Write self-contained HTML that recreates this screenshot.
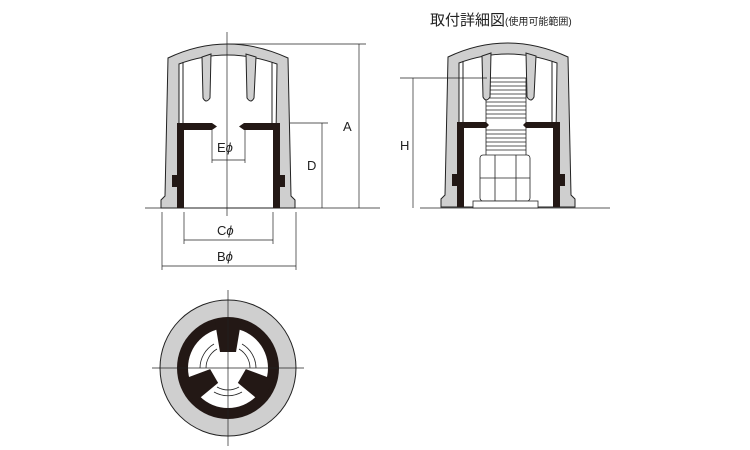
<!DOCTYPE html>
<html><head><meta charset="utf-8"><style>
html,body{margin:0;padding:0;background:#fff;width:750px;height:450px;overflow:hidden}
svg{display:block}
text{font-family:"Liberation Sans","Noto Sans CJK JP",sans-serif;fill:#222}
</style></head><body>
<svg width="750" height="450" viewBox="0 0 750 450" xmlns="http://www.w3.org/2000/svg">
<defs>
<g id="body">
  <path d="M161,208 L161,200 L165,196 L168,58 Q227,30 288,58 L291,196 L295,200 L295,208 Z" fill="#cfcfcf" stroke="#222" stroke-width="1"/>
  <path d="M179,208 L179,64 Q227,46 277,64 L275,208 Z" fill="#fff" stroke="#222" stroke-width="1"/>
  <line x1="183" y1="62" x2="183" y2="124" stroke="#222" stroke-width="1"/>
  <line x1="272" y1="62" x2="272" y2="124" stroke="#222" stroke-width="1"/>
  <rect x="172" y="175" width="6" height="12" fill="#231815"/>
  <rect x="279" y="175" width="6" height="12" fill="#231815"/>
</g>
<g id="ribs">
  <path d="M202,57 L203,98 Q206,104 210,98 L211,54 Z" fill="#cfcfcf" stroke="#222" stroke-width="1"/>
  <path d="M246,54 L247,98 Q251,104 254,98 L256,57 Z" fill="#cfcfcf" stroke="#222" stroke-width="1"/>
</g>
<g id="insert">
  <path d="M177,208 L177,123 L212,123 L217,126.5 L212,130 L184,130 L184,208 Z" fill="#231815"/>
  <path d="M280,208 L280,123 L244,123 L239,126.5 L244,130 L273,130 L273,208 Z" fill="#231815"/>
</g>
</defs>
<g stroke="#222" stroke-width="0.8" fill="none">
  <line x1="145" y1="208" x2="380" y2="208"/>
  <line x1="420" y1="208" x2="610" y2="208"/>
</g>
<use href="#body"/><use href="#ribs"/><use href="#insert"/>
<g stroke="#222" stroke-width="0.7" fill="none">
  <line x1="227" y1="32" x2="227" y2="216"/>
  <line x1="227" y1="44" x2="366" y2="44"/>
  <line x1="359" y1="44" x2="359" y2="208"/>
  <line x1="290" y1="123" x2="328" y2="123"/>
  <line x1="322" y1="123" x2="322" y2="208"/>
  <line x1="212" y1="130" x2="212" y2="163"/>
  <line x1="245" y1="130" x2="245" y2="163"/>
  <line x1="212" y1="160" x2="245" y2="160"/>
  <line x1="184" y1="212" x2="184" y2="244"/>
  <line x1="273" y1="212" x2="273" y2="244"/>
  <line x1="184" y1="240" x2="273" y2="240"/>
  <line x1="162" y1="212" x2="162" y2="270"/>
  <line x1="296" y1="212" x2="296" y2="270"/>
  <line x1="162" y1="266" x2="296" y2="266"/>
</g>
<text x="343" y="131" font-size="13">A</text>
<text x="307" y="170" font-size="13">D</text>
<text x="217" y="152" font-size="13">E<tspan font-style="italic">ϕ</tspan></text>
<text x="217" y="235" font-size="13">C<tspan font-style="italic">ϕ</tspan></text>
<text x="217" y="261" font-size="13">B<tspan font-style="italic">ϕ</tspan></text>

<g transform="translate(280,-1)"><use href="#body"/></g>
<!-- bolt -->
<rect x="486" y="78" width="40" height="78" fill="#fff" stroke="#222" stroke-width="0.8"/>
<g stroke="#222" stroke-width="0.7">
  <line x1="486" y1="82" x2="526" y2="82"/><line x1="486" y1="86" x2="526" y2="86"/>
  <line x1="486" y1="90" x2="526" y2="90"/><line x1="486" y1="94" x2="526" y2="94"/>
  <line x1="486" y1="98" x2="526" y2="98"/><line x1="486" y1="102" x2="526" y2="102"/>
  <line x1="486" y1="106" x2="526" y2="106"/><line x1="486" y1="110" x2="526" y2="110"/>
  <line x1="486" y1="114" x2="526" y2="114"/><line x1="486" y1="118" x2="526" y2="118"/>
  <line x1="486" y1="130" x2="526" y2="130"/><line x1="486" y1="134" x2="526" y2="134"/>
  <line x1="486" y1="138" x2="526" y2="138"/><line x1="486" y1="142" x2="526" y2="142"/>
  <line x1="486" y1="146" x2="526" y2="146"/><line x1="486" y1="150" x2="526" y2="150"/>
</g>
<g transform="translate(280,-1)"><use href="#ribs"/></g>
<path d="M457,207 L457,122 L486,122 L489,125 L486,128 L464,128 L464,207 Z" fill="#231815"/>
<path d="M560,207 L560,122 L526,122 L523,125 L526,128 L553,128 L553,207 Z" fill="#231815"/>
<rect x="480" y="155" width="50" height="46" rx="3" fill="#fff" stroke="#222" stroke-width="0.8"/>
<g stroke="#222" stroke-width="0.8"><line x1="495" y1="155" x2="495" y2="201"/><line x1="516" y1="155" x2="516" y2="201"/><line x1="480" y1="178" x2="530" y2="178"/></g>
<rect x="473" y="201" width="65" height="7" fill="#fff" stroke="#222" stroke-width="0.8"/>
<g stroke="#222" stroke-width="0.7">
  <line x1="400" y1="78" x2="487" y2="78"/>
  <line x1="413" y1="78" x2="413" y2="208"/>
</g>
<text x="400" y="150" font-size="13">H</text>
<text x="430" y="25" font-size="15">取付詳細図<tspan font-size="10">(使用可能範囲)</tspan></text>

<!-- bottom view -->
<g transform="translate(228,368)">
  <circle r="68" fill="#cfcfcf" stroke="#222" stroke-width="1"/>
  <circle r="51" fill="#231815"/>
  <circle r="40" fill="#fff"/>
  <g fill="none" stroke="#222" stroke-width="0.8">
    <path d="M-28,0 A28,28 0 0 1 -14,-24"/><path d="M14,-24 A28,28 0 0 1 28,0"/>
    <path d="M-22,0 A22,22 0 0 1 -11,-19"/><path d="M11,-19 A22,22 0 0 1 22,0"/>
    <path d="M-14,24 A28,28 0 0 0 14,24"/><path d="M-11,19 A22,22 0 0 0 11,19"/>
  </g>
  <g id="lug" fill="#231815"><path d="M-13,-46 L13,-46 L8,-16 L-8,-16 Z"/></g>
  <use href="#lug" transform="rotate(120)"/>
  <use href="#lug" transform="rotate(240)"/>
  <g stroke="#222" stroke-width="0.7"><line x1="-76" y1="0" x2="76" y2="0"/><line x1="0" y1="-78" x2="0" y2="78"/></g>
</g>
</svg>
</body></html>
